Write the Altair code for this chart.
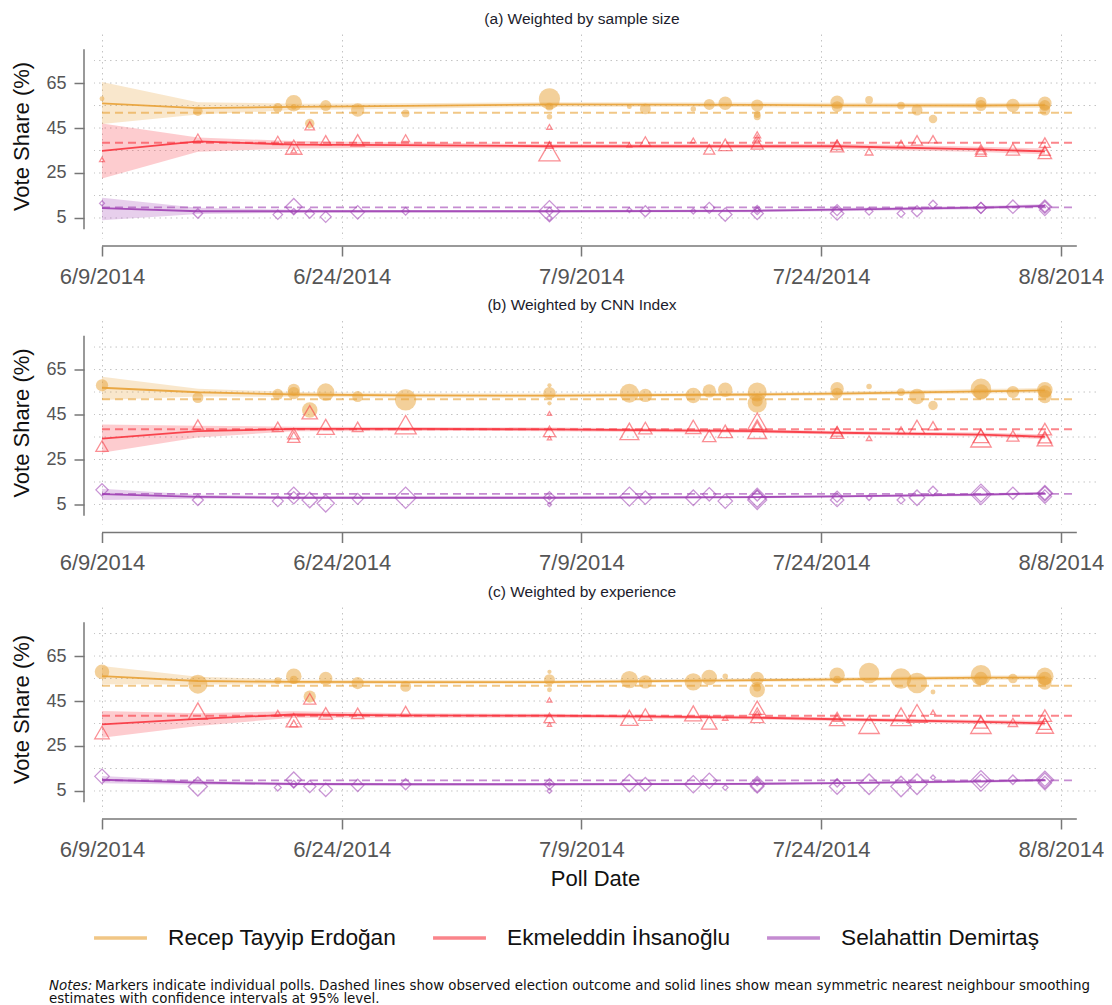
import altair as alt
import pandas as pd

FONT = "Liberation Sans"
NOTE_FONT = "DejaVu Sans"

# Candidates, colours and marker shapes
candidates = ["Recep Tayyip Erdoğan", "Ekmeleddin İhsanoğlu", "Selahattin Demirtaş"]
colors = ["#E8A135", "#F8343E", "#9E3FB3"]
shapes = ["circle", "triangle-up", "diamond"]
election_result = [51.79, 38.44, 9.76]

# Axis ticks
start_date = "2014-06-09"
tick_days = [0, 15, 30, 45, 60]
tick_labels = ["6/9/2014", "6/24/2014", "7/9/2014", "7/24/2014", "8/8/2014"]
y_ticks = [5, 15, 25, 35, 45, 55, 65]
grid_values = [5, 15, 25, 35, 45, 55, 65, 75]

# Individual polls
poll_dates = [
    "2014-06-09", "2014-06-15", "2014-06-20", "2014-06-21", "2014-06-21",
    "2014-06-22", "2014-06-23", "2014-06-25", "2014-06-28", "2014-07-07",
    "2014-07-07", "2014-07-07", "2014-07-12", "2014-07-13", "2014-07-16",
    "2014-07-17", "2014-07-18", "2014-07-20", "2014-07-20", "2014-07-20",
    "2014-07-25", "2014-07-25", "2014-07-27", "2014-07-29", "2014-07-30",
    "2014-07-31", "2014-08-03", "2014-08-03", "2014-08-05", "2014-08-07",
    "2014-08-07", "2014-08-07",
]
erdogan = [58, 52.5, 54, 56, 54.5, 47, 55, 53, 51.5, 58, 54.5, 50, 54.5, 53.5, 53.5, 55.5,
           56, 55, 50, 51, 56.5, 54.5, 57.5, 55, 53, 49, 56.5, 55, 55, 56, 55, 53]
ihsanoglu = [31, 40.5, 39.5, 36.5, 35, 46, 39.5, 39.5, 40.5, 34.5, 37.5, 45.5, 37.5, 39, 39.5, 35.5,
             37.5, 38, 42, 40.5, 37, 37.5, 34.5, 38, 39.5, 40, 34.5, 35.5, 35.5, 34, 35, 38.5]
demirtas = [11.5, 7, 6.5, 10, 8, 7, 5.5, 7.5, 8, 8, 8, 5, 8.5, 8, 8, 9.5,
            6.5, 7, 8, 9, 7, 8.5, 8, 7, 8, 11, 9.5, 9.5, 10, 10, 10, 8.5]

# Poll weights
w_sample = [0.4, 1.5, 1.5, 4.5, 0.5, 1.5, 2, 3, 1, 7.5, 1, 0.5, 0.4, 2, 0.5, 2,
            3, 2.5, 0.8, 0.8, 3, 2, 1, 1, 2, 1.2, 2, 2, 3, 3, 2, 2]
w_cnn = [2.5, 2, 2, 2.5, 2.5, 4, 5, 2, 7.5, 0.3, 2.5, 0.3, 6, 3, 4, 3,
         3.5, 6, 6, 2, 3, 2, 0.5, 1, 4, 1.5, 7, 4, 2.5, 4, 3, 3]
w_exp = [3.5, 6, 0.8, 4, 1, 2.5, 3, 2.5, 2, 0.3, 2, 0.4, 5, 3, 5, 4,
         0.5, 3, 4, 1, 4, 1, 7, 7, 7, 0.4, 7, 3, 1.5, 5, 3, 3]

# Smoothed estimates with 95% bands (Erdoğan, İhsanoğlu, Demirtaş)
smooth_dates = ["2014-06-09", "2014-06-15", "2014-06-21", "2014-06-28", "2014-07-07",
                "2014-07-20", "2014-07-25", "2014-08-03", "2014-08-07"]

fit_sample = [[56.0, 53.8, 54.4, 54.8, 55.5, 55.3, 55.1, 55.0, 55.2],
              [34.8, 39.1, 37.6, 37.4, 36.9, 36.9, 36.9, 35.5, 34.6],
              [9.4, 8.0, 8.0, 8.0, 8.0, 8.2, 8.7, 9.6, 10.4]]
lo_sample = [[46.8, 51.0, 53.0, 53.6, 54.5, 54.3, 54.0, 53.9, 54.0],
             [22.5, 34.5, 35.9, 36.2, 36.0, 36.0, 35.8, 34.3, 33.3],
             [4.0, 6.8, 7.3, 7.4, 7.4, 7.6, 8.0, 8.9, 9.6]]
hi_sample = [[65.5, 56.5, 55.8, 56.0, 56.5, 56.3, 56.2, 56.1, 56.4],
             [47.0, 40.8, 39.2, 38.6, 37.8, 37.8, 38.0, 36.7, 35.9],
             [14.0, 9.5, 8.7, 8.6, 8.6, 8.8, 9.4, 10.3, 11.2]]

fit_cnn = [[56.9, 54.9, 53.9, 53.5, 53.4, 53.9, 54.3, 55.3, 55.7],
           [34.3, 37.6, 38.6, 38.6, 38.4, 37.6, 36.9, 36.1, 35.1],
           [9.6, 8.4, 8.0, 8.0, 8.0, 8.3, 8.6, 9.4, 9.9]]
lo_cnn = [[51.5, 53.0, 52.9, 52.6, 52.6, 53.1, 53.4, 54.3, 54.6],
          [28.0, 34.8, 37.6, 37.7, 37.6, 36.8, 36.1, 35.2, 34.1],
          [7.0, 7.5, 7.4, 7.4, 7.5, 7.8, 8.1, 8.8, 9.3]]
hi_cnn = [[61.8, 56.5, 55.0, 54.4, 54.3, 54.7, 55.2, 56.3, 56.8],
          [40.6, 40.0, 39.6, 39.5, 39.2, 38.4, 37.7, 37.0, 36.1],
          [12.0, 9.3, 8.6, 8.6, 8.5, 8.8, 9.1, 10.0, 10.5]]

fit_exp = [[56.1, 53.9, 53.5, 53.4, 53.4, 54.3, 54.6, 55.4, 55.4],
           [34.6, 37.1, 39.0, 38.6, 38.5, 37.6, 36.9, 35.7, 35.1],
           [10.0, 8.7, 8.1, 8.0, 8.0, 8.2, 8.5, 9.3, 9.8]]
lo_exp = [[52.4, 52.3, 52.6, 52.6, 52.7, 53.5, 53.8, 54.5, 54.4],
          [28.7, 33.9, 37.6, 37.6, 37.6, 36.8, 36.1, 34.8, 34.1],
          [8.4, 7.8, 7.5, 7.4, 7.5, 7.7, 8.0, 8.7, 9.2]]
hi_exp = [[60.6, 55.8, 54.5, 54.3, 54.2, 55.1, 55.4, 56.3, 56.4],
          [40.6, 39.6, 40.4, 39.6, 39.3, 38.4, 37.7, 36.6, 36.1],
          [11.7, 9.6, 8.7, 8.6, 8.5, 8.7, 9.0, 9.9, 10.4]]

panel_titles = ["(a) Weighted by sample size", "(b) Weighted by CNN Index",
                "(c) Weighted by experience"]
note_label = "Notes:"
note_lines = [
    "Markers indicate individual polls. Dashed lines show observed election outcome and solid lines show mean symmetric nearest neighbour smoothing",
    "estimates with confidence intervals at 95% level.",
]

# ---------------------------------------------------------------- tables
t0 = pd.Timestamp(start_date)
poll_day = [(pd.Timestamp(d) - t0).days for d in poll_dates]
smooth_day = [(pd.Timestamp(d) - t0).days for d in smooth_dates]
shares = [erdogan, ihsanoglu, demirtas]


def poll_table(weights):
    rows = []
    for ci, cand in enumerate(candidates):
        for i, day in enumerate(poll_day):
            rows.append({"day": day, "candidate": cand, "marker": shapes[ci],
                         "share": shares[ci][i], "w": weights[i]})
    return pd.DataFrame(rows)


def smooth_table(fit, lo, hi):
    rows = []
    for ci, cand in enumerate(candidates):
        for i, day in enumerate(smooth_day):
            rows.append({"day": day, "candidate": cand, "fit": fit[ci][i],
                         "lo": lo[ci][i], "hi": hi[ci][i]})
    return pd.DataFrame(rows)


results_df = pd.DataFrame({"candidate": candidates, "result": election_result})
grid_df = pd.DataFrame({"g": grid_values})
one_row = pd.DataFrame({"k": [0]})

# ---------------------------------------------------------------- geometry
W, H = 1002, 204
X_DOMAIN = [-0.5, 62.2]
Y_DOMAIN = [-3.9, 86.8]
AXIS_END = 61

label_expr = "[" + ",".join(f"'{t}'" for t in tick_labels) + "][indexof([" + \
    ",".join(str(d) for d in tick_days) + "], datum.value)]"

color_scale = alt.Scale(domain=candidates, range=colors)
size_scale = alt.Scale(domain=[0, 10], range=[0, 600])
xscale = alt.Scale(domain=X_DOMAIN, nice=False, zero=False)
yscale = alt.Scale(domain=Y_DOMAIN, nice=False, zero=False)

legend = alt.Legend(
    orient="none", legendX=-2, legendY=875, direction="horizontal", title=None,
    symbolType="stroke", symbolSize=2800, symbolStrokeWidth=3.5, symbolOpacity=0.6,
    labelFont=FONT, labelFontSize=22.7, labelColor="#111111", labelOffset=19,
    columnPadding=29, padding=0, labelLimit=400)
col = alt.Color("candidate:N", scale=color_scale, sort=candidates, legend=legend)


def build_panel(title, weights, fit, lo, hi, last):
    xaxis = alt.Axis(values=tick_days, labelExpr=label_expr, title="Poll Date" if last else None,
                     offset=8, tickSize=10, tickWidth=1.5, tickColor="#777777", domain=False,
                     grid=True, gridDash=[1.5, 4], gridColor="#c4c4c4", gridWidth=1,
                     labelFont=FONT, labelFontSize=22, labelColor="#555555", labelPadding=10,
                     titleFont=FONT, titleFontSize=22, titleFontWeight="normal",
                     titleColor="#111111", titlePadding=8)
    yaxis = alt.Axis(values=y_ticks, title="Vote Share (%)", offset=10, tickSize=10,
                     tickWidth=1.5, tickColor="#777777", domain=False, grid=False,
                     labelFont=FONT, labelFontSize=18, labelColor="#555555", labelPadding=8,
                     labelOverlap=False,
                     titleFont=FONT, titleFontSize=22, titleFontWeight="normal",
                     titleColor="#111111", titlePadding=12)
    X = alt.X("day:Q", scale=xscale, axis=xaxis)

    polls = poll_table(weights)
    smooth = smooth_table(fit, lo, hi)

    grid = alt.Chart(grid_df).mark_rule(strokeDash=[1.5, 4], color="#c4c4c4", strokeWidth=1).encode(
        y=alt.Y("g:Q", scale=yscale, axis=yaxis))
    band = alt.Chart(smooth).mark_area(opacity=0.25).encode(
        x=X, y=alt.Y("lo:Q", scale=yscale, axis=yaxis), y2="hi:Q", color=col)
    outcome = alt.Chart(results_df).mark_rule(strokeDash=[8, 5], strokeWidth=1.8, opacity=0.6).encode(
        y=alt.Y("result:Q", scale=yscale, axis=yaxis), x=alt.datum(0), x2=alt.datum(AXIS_END), color=col)
    line = alt.Chart(smooth).mark_line(strokeWidth=1.8, opacity=0.9).encode(
        x=X, y=alt.Y("fit:Q", scale=yscale, axis=yaxis), color=col)
    size = alt.Size("w:Q", scale=size_scale, legend=None)
    circles = alt.Chart(polls[polls.candidate == candidates[0]]).mark_point(
        filled=True, shape="circle", opacity=0.5).encode(
        x=X, y=alt.Y("share:Q", scale=yscale, axis=yaxis), size=size, color=col)
    hollow = alt.Chart(polls[polls.candidate != candidates[0]]).mark_point(
        filled=False, strokeWidth=1.3, opacity=0.55).encode(
        x=X, y=alt.Y("share:Q", scale=yscale, axis=yaxis), size=size, color=col,
        shape=alt.Shape("marker:N", scale=None, legend=None))
    yline = alt.Chart(one_row).mark_rule(color="#777777", strokeWidth=1.5).encode(
        x=alt.value(-10), y=alt.datum(0), y2=alt.datum(80))
    xline = alt.Chart(one_row).mark_rule(color="#777777", strokeWidth=1.5).encode(
        y=alt.value(H + 8), x=alt.datum(0), x2=alt.datum(AXIS_END))

    layers = [grid, band, outcome, line, circles, hollow, yline, xline]
    if last:
        notes_head = alt.Chart(one_row).mark_text(
            align="left", baseline="middle", font=NOTE_FONT, fontSize=13.4, fontStyle="italic",
            color="#111111").encode(x=alt.value(-45), y=alt.value(379), text=alt.value(note_label))
        notes_body = alt.Chart(one_row).mark_text(
            align="left", baseline="middle", font=NOTE_FONT, fontSize=13.4, color="#111111").encode(
            x=alt.value(1), y=alt.value(379), text=alt.value(note_lines[0]))
        notes_tail = alt.Chart(one_row).mark_text(
            align="left", baseline="middle", font=NOTE_FONT, fontSize=13.4, color="#111111").encode(
            x=alt.value(-45), y=alt.value(392), text=alt.value(note_lines[1]))
        layers += [notes_head, notes_body, notes_tail]

    return alt.layer(*layers).properties(
        width=W, height=H,
        title=alt.TitleParams(title, font=FONT, fontSize=15.5, fontWeight="normal",
                              color="#1c1c2c", offset=7, anchor="middle", dx=-13))


panels = [
    build_panel(panel_titles[0], w_sample, fit_sample, lo_sample, hi_sample, False),
    build_panel(panel_titles[1], w_cnn, fit_cnn, lo_cnn, hi_cnn, False),
    build_panel(panel_titles[2], w_exp, fit_exp, lo_exp, hi_exp, True),
]

chart = alt.vconcat(*panels, spacing=10.5).resolve_scale(
    color="shared", size="shared").resolve_legend(color="shared").properties(
    padding={"left": 10, "top": 11, "right": 0, "bottom": 0},
    background="white",
).configure_view(stroke=None)

chart.save("out.html", embed_options={"renderer": "svg", "actions": False})
